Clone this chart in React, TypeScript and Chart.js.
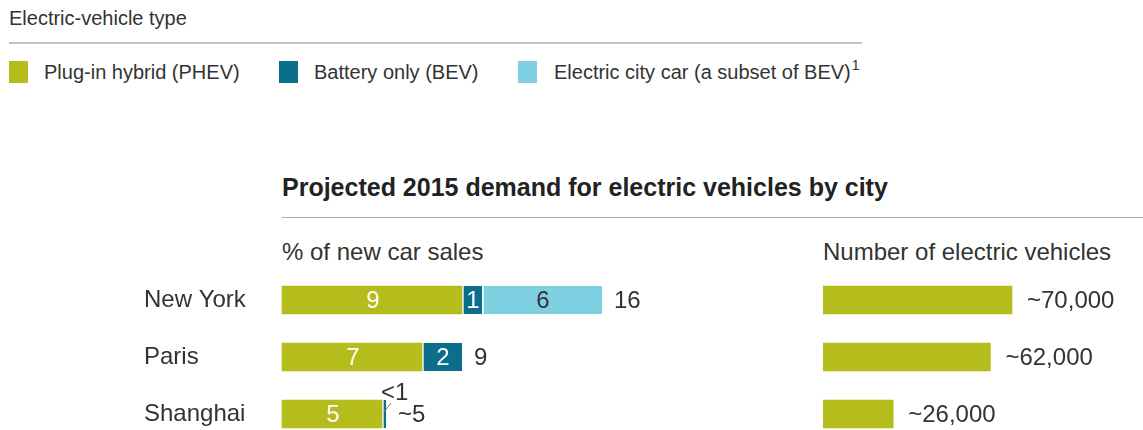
import React, { useEffect, useRef } from 'react';
import { Chart, registerables } from 'chart.js';

Chart.register(...registerables);

// ---- data ----
const cities = ['New York', 'Paris', 'Shanghai'];
const phevShare = [9, 7, 5];
const bevShare = [1, 2, 0.2];
const cityCarShare = [6, null, null];
const phevLabels = ['9', '7', '5'];
const bevLabels = ['1', '2', '<1'];
const cityCarLabels = ['6', '', ''];
const totalLabels = ['16', '9', '~5'];
const evCounts = [70000, 62000, 26000];
const evCountLabels = ['~70,000', '~62,000', '~26,000'];
const legendLabels = ['Plug-in hybrid (PHEV)', 'Battery only (BEV)', 'Electric city car (a subset of BEV)'];
const shareMax = 20;
const countMax = 100000;

// ---- styles ----
const PHEV = '#b5bd1c';
const BEV = '#0b6f8c';
const CITY = '#7fd1e1';
const TEXT = '#333333';
const FONT = "'Liberation Sans', Arial, Helvetica, sans-serif";

const shareLabelsPlugin = {
  id: 'shareLabels',
  afterDatasetsDraw(chart: any) {
    const ctx = chart.ctx;
    ctx.save();
    ctx.font = `24px ${FONT}`;
    ctx.textBaseline = 'middle';
    const segLabels = [phevLabels, bevLabels, cityCarLabels];
    const segColors = ['#ffffff', '#ffffff', TEXT];
    const ends: number[] = cities.map(() => chart.chartArea.left);
    const rows: number[] = cities.map(() => 0);
    chart.data.datasets.forEach((ds: any, di: number) => {
      const meta = chart.getDatasetMeta(di);
      meta.data.forEach((el: any, i: number) => {
        const v = ds.data[i];
        if (v == null) return;
        const { x, y, base } = el.getProps(['x', 'y', 'base'], true);
        ends[i] = Math.max(ends[i], x);
        rows[i] = y;
        const lbl = segLabels[di][i];
        if (!lbl) return;
        const w = x - base;
        const tw = ctx.measureText(lbl).width;
        if (tw + 2 < w) {
          ctx.fillStyle = segColors[di];
          ctx.textAlign = 'center';
          ctx.fillText(lbl, (x + base) / 2 + 1, y + 1);
        } else {
          ctx.fillStyle = TEXT;
          ctx.textAlign = 'left';
          ctx.fillText(lbl, x - 5, y - 21);
          ctx.strokeStyle = '#777777';
          ctx.lineWidth = 1;
          ctx.beginPath();
          ctx.moveTo(x - 2, y - 2);
          ctx.lineTo(x + 5, y - 11);
          ctx.stroke();
        }
      });
    });
    ctx.fillStyle = TEXT;
    ctx.textAlign = 'left';
    totalLabels.forEach((lbl, i) => {
      ctx.fillText(lbl, ends[i] + 12, rows[i] + 1);
    });
    ctx.restore();
  },
};

const countLabelsPlugin = {
  id: 'countLabels',
  afterDatasetsDraw(chart: any) {
    const ctx = chart.ctx;
    ctx.save();
    ctx.font = `24px ${FONT}`;
    ctx.textBaseline = 'middle';
    ctx.textAlign = 'left';
    ctx.fillStyle = TEXT;
    const meta = chart.getDatasetMeta(0);
    meta.data.forEach((el: any, i: number) => {
      const { x, y } = el.getProps(['x', 'y'], true);
      ctx.fillText(evCountLabels[i], x + 15, y + 1);
    });
    ctx.restore();
  },
};

const segBorder = { left: 2, right: 0, top: 0, bottom: 0 };

function ShareChart() {
  const ref = useRef<HTMLCanvasElement>(null);
  useEffect(() => {
    const chart = new Chart(ref.current as HTMLCanvasElement, {
      type: 'bar',
      data: {
        labels: cities,
        datasets: [
          { label: legendLabels[0], data: phevShare, backgroundColor: PHEV, borderWidth: 0 },
          { label: legendLabels[1], data: bevShare, backgroundColor: BEV, borderColor: '#ffffff', borderWidth: segBorder, borderSkipped: false },
          { label: legendLabels[2], data: cityCarShare, backgroundColor: CITY, borderColor: '#ffffff', borderWidth: segBorder, borderSkipped: false },
        ] as any,
      },
      options: {
        indexAxis: 'y',
        responsive: false,
        maintainAspectRatio: false,
        animation: false,
        layout: { padding: { top: 30, bottom: 16, left: 0, right: 18 } },
        datasets: { bar: { barThickness: 28, clip: false } as any },
        plugins: { legend: { display: false }, tooltip: { enabled: false } },
        scales: {
          x: { stacked: true, min: 0, max: shareMax, display: false },
          y: {
            stacked: true,
            offset: false,
            grid: { display: false },
            border: { display: false },
            ticks: { crossAlign: 'far', padding: 0, color: TEXT, font: { family: FONT, size: 24 }, autoSkip: false },
            afterFit(scale: any) { scale.width = 138; },
          },
        },
      } as any,
      plugins: [shareLabelsPlugin],
    });
    return () => chart.destroy();
  }, []);
  return (
    <canvas ref={ref} width={556} height={160}
      style={{ position: 'absolute', left: 144, top: 270, width: 556, height: 160 }} />
  );
}

function CountChart() {
  const ref = useRef<HTMLCanvasElement>(null);
  useEffect(() => {
    const chart = new Chart(ref.current as HTMLCanvasElement, {
      type: 'bar',
      data: {
        labels: cities,
        datasets: [{ label: 'Number of electric vehicles', data: evCounts, backgroundColor: PHEV, borderWidth: 0 }],
      },
      options: {
        indexAxis: 'y',
        responsive: false,
        maintainAspectRatio: false,
        animation: false,
        layout: { padding: { top: 30, bottom: 16, left: 0, right: 50 } },
        datasets: { bar: { barThickness: 28, clip: false } as any },
        plugins: { legend: { display: false }, tooltip: { enabled: false } },
        scales: {
          x: { min: 0, max: countMax, display: false },
          y: { offset: false, display: false },
        },
      } as any,
      plugins: [countLabelsPlugin],
    });
    return () => chart.destroy();
  }, []);
  return (
    <canvas ref={ref} width={320} height={160}
      style={{ position: 'absolute', left: 823, top: 270, width: 320, height: 160 }} />
  );
}

const legendColors = [PHEV, BEV, CITY];
const legendSquareX = [9, 279, 518];
const legendTextX = [44, 314, 554];

export default function App() {
  return (
    <div style={{ position: 'absolute', left: 0, top: 0, width: 1143, height: 430, overflow: 'hidden', background: '#ffffff', fontFamily: FONT, color: TEXT }}>
      <div style={{ position: 'absolute', left: 9, top: 8, fontSize: 20, lineHeight: '20px', whiteSpace: 'nowrap' }}>Electric-vehicle type</div>
      <div style={{ position: 'absolute', left: 9, top: 42, width: 853, height: 2, background: '#c4c4c4' }} />
      {legendLabels.map((lbl, i) => (
        <React.Fragment key={lbl}>
          <div style={{ position: 'absolute', left: legendSquareX[i], top: 61, width: 19, height: 22, background: legendColors[i] }} />
          <div style={{ position: 'absolute', left: legendTextX[i], top: 62, fontSize: 20, lineHeight: '20px', whiteSpace: 'nowrap' }}>
            {lbl}
            {i === 2 && <span style={{ fontSize: 14, position: 'relative', top: -9, marginLeft: 1 }}>1</span>}
          </div>
        </React.Fragment>
      ))}
      <div style={{ position: 'absolute', left: 282, top: 175, fontSize: 25, lineHeight: '25px', fontWeight: 'bold', whiteSpace: 'nowrap', color: '#222' }}>
        Projected 2015 demand for electric vehicles by city
      </div>
      <div style={{ position: 'absolute', left: 282, top: 217, width: 861, height: 1, background: '#a8a8a8' }} />
      <div style={{ position: 'absolute', left: 282, top: 240, fontSize: 24, lineHeight: '24px', whiteSpace: 'nowrap' }}>% of new car sales</div>
      <div style={{ position: 'absolute', left: 823, top: 240, fontSize: 24, lineHeight: '24px', whiteSpace: 'nowrap' }}>Number of electric vehicles</div>
      <ShareChart />
      <CountChart />
    </div>
  );
}
